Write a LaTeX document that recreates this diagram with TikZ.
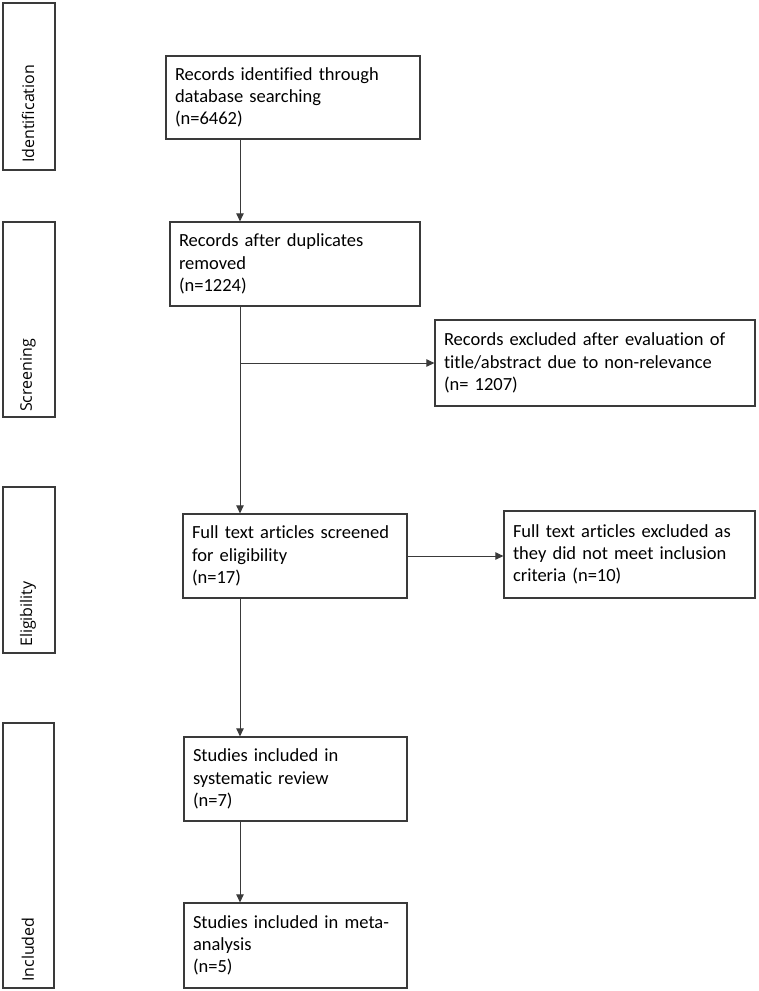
\documentclass[tikz,border=0pt]{standalone}
\usepackage{fontspec}
\setmainfont{Carlito}[Ligatures={NoCommon}]
\newfontfamily\sidefont{Open Sans}
\usetikzlibrary{arrows.meta}
\definecolor{lc}{HTML}{3A3A3A}
\begin{document}
\begin{tikzpicture}[x=1pt,y=-1pt,
  box/.style={draw=lc,line width=1.3pt,inner xsep=9pt,align=left,
    font=\fontsize{18.5}{22.3}\selectfont,text=black},
  side/.style={draw=lc,line width=1.3pt},
  sidelabel/.style={rotate=90,anchor=west,inner sep=0pt,font=\sidefont\fontsize{16}{19}\selectfont},
  conn/.style={draw=lc,line width=1pt},
  arr/.style={conn,-{Triangle[length=8pt,width=7.5pt]}}]
\useasboundingbox (0,0) rectangle (758,991);
% side stage boxes
\draw[side] (3,3) rectangle (55,170);
\draw[side] (3,222) rectangle (55,417);
\draw[side] (3,487) rectangle (55,653);
\draw[side] (3,723) rectangle (54,988);
\node[sidelabel] (lid) at (28,163) {Identification};
\node[sidelabel] (lsc) at (28,412) {Screening};
\node[sidelabel] (lel) at (28,647) {Eligibility};
\node[sidelabel] (lin) at (28,982) {Included};
% main boxes
\node[box,minimum width=254pt,minimum height=83pt,text width=236pt] (b1) at (293,97.5)
  {Records identified through\\database searching\\(n=6462)};
\node[box,minimum width=250pt,minimum height=84pt,text width=232pt] (b2) at (295,264)
  {Records after duplicates\\removed\\(n=1224)};
\node[box,minimum width=320pt,minimum height=86pt,text width=302pt] (e1) at (595,363)
  {Records excluded after evaluation of\\title/abstract due to non-relevance\\(n= 1207)};
\node[box,minimum width=224pt,minimum height=84pt,text width=206pt] (b3) at (295,556)
  {Full text articles screened\\for eligibility\\(n=17)};
\node[box,minimum width=251pt,minimum height=87pt,text width=233pt] (e2) at (629.5,554.5)
  {Full text articles excluded as\\they did not meet inclusion\\criteria (n=10)};
\node[box,minimum width=223pt,minimum height=84pt,text width=205pt] (b4) at (295.5,779)
  {Studies included in\\systematic review\\(n=7)};
\node[box,minimum width=223pt,minimum height=85pt,text width=205pt] (b5) at (295.5,945.5)
  {Studies included in meta-\\analysis\\(n=5)};
% connectors
\coordinate (c) at (240,0);
\draw[arr] (b1.south -| c) -- (b2.north -| c);
\draw[arr] (b2.south -| c) -- (b3.north -| c);
\draw[arr] (e1.west -| c) -- (e1.west);
\draw[arr] (b3.east) -- (b3.east -| e2.west);
\draw[arr] (b3.south -| c) -- (b4.north -| c);
\draw[arr] (b4.south -| c) -- (b5.north -| c);
\end{tikzpicture}
\end{document}
